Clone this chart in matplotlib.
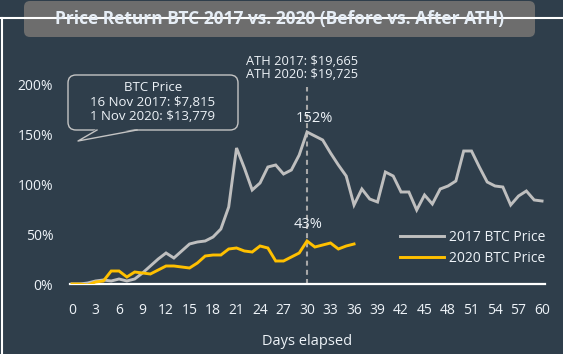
import matplotlib.pyplot as plt
from matplotlib.patches import FancyBboxPatch, Polygon
from matplotlib.lines import Line2D
from matplotlib.transforms import IdentityTransform

# --- data ---
days_2017 = list(range(61))
ret_2017 = [0, 0, 1, 3, 4, 3, 5, 3, 5, 11,
            18, 25, 31, 26, 33, 40, 42, 43, 47, 55,
            77, 136, 116, 94, 101, 117, 119, 110, 114, 129,
            152, 148, 144, 131, 119, 108, 79, 95, 85, 82,
            112, 108, 92, 92, 74, 89, 80, 95, 98, 103,
            133, 133, 117, 102, 98, 97, 79, 88, 93, 84,
            83]
days_2020 = list(range(37))
ret_2020 = [0, 0, -1, 2, 3, 13, 13, 7, 12, 11,
            10, 14, 18, 18, 17, 16, 21, 28, 29, 29,
            35, 36, 33, 32, 38, 36, 23, 23, 27, 31,
            43, 37, 39, 41, 35, 38, 40]
x_ticks = list(range(0, 61, 3))
y_ticks = [0, 50, 100, 150, 200]
ath_day = 30

title = "Price Return BTC 2017 vs. 2020 (Before vs. After ATH)"
ath_note = "ATH 2017: $19,665\nATH 2020: $19,725"
callout = "BTC Price\n16 Nov 2017: $7,815\n1 Nov 2020: $13,779"

# --- style ---
BG = '#2f3e4b'
TXT = '#eef3f8'
GREY = '#bfbfbf'
GOLD = '#ffc000'
EDGE = '#c4c4c4'
plt.rcParams['font.family'] = ['Open Sans', 'DejaVu Sans']

W, H = 563, 354
fig = plt.figure(figsize=(W / 100, H / 100), dpi=100, facecolor=BG)
ax = fig.add_axes([70 / W, 1 - 284 / H, 475 / W, 220 / H])
ax.set_facecolor(BG)

ax.plot(days_2017, ret_2017, color=GREY, lw=2.1, label='2017 BTC Price',
        solid_joinstyle='miter', zorder=3)
ax.plot(days_2020, ret_2020, color=GOLD, lw=2.1, label='2020 BTC Price',
        solid_joinstyle='miter', zorder=3)

# ATH marker line and labels
ax.vlines(ath_day, 0, 197, color='#a8a8a8', lw=1.5,
          linestyles=(0, (2.4, 2.0)), zorder=2)
peak17 = ret_2017[days_2017.index(ath_day)]
peak20 = ret_2020[days_2020.index(ath_day)]
ax.annotate(f"{peak17}%", (ath_day, peak17), xytext=(5, 9.5),
            textcoords='offset points', ha='center', va='center',
            color=TXT, fontsize=10.5)
ax.annotate(f"{peak20}%", (ath_day, peak20), xytext=(0.7, 12),
            textcoords='offset points', ha='center', va='center',
            color=TXT, fontsize=10.5)
ax.text(22.2, 216, ath_note, ha='left', va='center', color=TXT,
        fontsize=9.3, linespacing=1.05)

ax.set_xlim(-0.26, 60.38)
ax.set_ylim(0, 220)
ax.set_xticks(x_ticks)
ax.set_yticks(y_ticks)
ax.set_yticklabels([f"{v}%" for v in y_ticks])
ax.tick_params(length=0, colors=TXT, labelsize=10)
ax.tick_params(axis='x', pad=13.5)
ax.tick_params(axis='y', pad=12)
for s in ['top', 'right', 'left']:
    ax.spines[s].set_visible(False)
ax.spines['bottom'].set_color('white')
ax.spines['bottom'].set_linewidth(1.6)
ax.set_xlabel('Days elapsed', color=TXT, fontsize=10.5, labelpad=12)

ax.legend(loc='center left', bbox_to_anchor=(400 / W, 1 - 248 / H),
          bbox_transform=fig.transFigure, frameon=False, fontsize=10,
          labelcolor=TXT, handlelength=3.2, handletextpad=0.3,
          labelspacing=0.45, borderpad=0, borderaxespad=0)

# --- decorations in pixel space ---
pix = IdentityTransform()

def P(x, y):
    return (x, H - y)

# frame
fig.add_artist(Line2D([0, W], [H - 17.5, H - 17.5], color='white', lw=1.5,
                      transform=pix))
fig.add_artist(Line2D([1.5, 1.5], [0, H - 17.5], color='white', lw=1.5,
                      transform=pix))

# title box
fig.add_artist(FancyBboxPatch(P(24, 37), 511, 36,
                              boxstyle='round,pad=0,rounding_size=6',
                              fc='#6d6d6d', ec='none', transform=pix))
fig.text(280 / W, 1 - 19 / H, title, ha='center', va='center',
         color='#e6edf5', fontsize=12.5, fontweight='bold')

# callout bubble
fig.add_artist(FancyBboxPatch(P(68, 130), 170, 55,
                              boxstyle='round,pad=0,rounding_size=8',
                              fc=BG, ec=EDGE, lw=1.0, transform=pix))
fig.add_artist(Polygon([P(97, 128.5), P(78, 141), P(137, 128.5)],
                       closed=True, fc=BG, ec='none', transform=pix))
fig.add_artist(Line2D([97, 78, 137], [H - 130, H - 141, H - 130],
                      color=EDGE, lw=1.0, transform=pix))
fig.text(153 / W, 1 - 102 / H, callout, ha='center', va='center',
         color=TXT, fontsize=9.5, linespacing=1.15)

fig.savefig('out.png', dpi=100, facecolor=BG)
